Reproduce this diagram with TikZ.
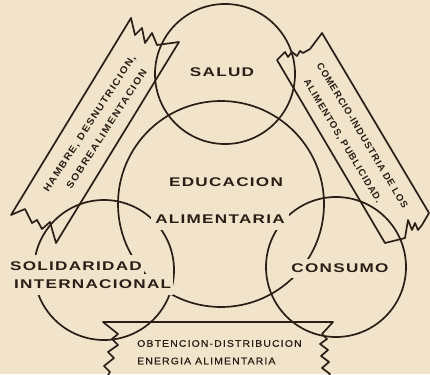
\documentclass[tikz,border=0pt]{standalone}
\usepackage{fontspec}
\newfontfamily\labfont[FakeStretch=1.36, LetterSpace=10]{Liberation Sans}
\newfontfamily\ribfont[FakeStretch=1.1, LetterSpace=14]{Liberation Sans}
\newfontfamily\ribfontb[FakeStretch=1.0, LetterSpace=10]{Liberation Sans}
\newfontfamily\botfont[FakeStretch=1.1, LetterSpace=12, FakeBold=0.6]{Liberation Sans}
\definecolor{bg}{HTML}{F2E4CA}
\definecolor{ink}{HTML}{2A1E16}
\tikzset{
  ln/.style={draw=ink, line width=1.7pt, line join=round, line cap=round},
  lab/.style={font=\labfont\bfseries\fontsize{12.6}{14}\selectfont, text=ink, fill=bg, inner xsep=2pt, inner ysep=5pt},
  ribtxt/.style={font=\ribfont\bfseries\fontsize{9.6}{11}\selectfont, text=ink, inner sep=0pt},
  ribtxtb/.style={font=\ribfontb\bfseries\fontsize{9.6}{11}\selectfont, text=ink, inner sep=0pt},
  bottxt/.style={font=\botfont\fontsize{9.5}{11}\selectfont, text=ink, inner sep=0pt, anchor=west},
}
\begin{document}
\begin{tikzpicture}[x=1pt,y=-1pt]
\useasboundingbox (0,0) rectangle (430,374);
\fill[bg] (0,0) rectangle (430,374);
\clip (0,0) rectangle (430,374);
% circle centres
\coordinate (cS) at (225,74);
\coordinate (cE) at (221,204);
\coordinate (cL) at (104,270);
\coordinate (cC) at (336,267);
\draw[ln] (cS) circle (70);
\draw[ln] (cE) circle (103);
\draw[ln] (cL) circle (70);
\draw[ln] (cC) circle (70);
% left ribbon
\draw[ln] (11,215) -- (131,18) -- (135,35) -- (142,28) -- (145,43) -- (152,33) -- (157,45) -- (179,42)
  -- (56,243) -- (50,222) -- (42,229) -- (37,220) -- (32,223) -- (25,209) -- cycle;
% right ribbon
\draw[ln] (322,33) -- (310,49) -- (303,53) -- (300,51) -- (297,56) -- (292,52) -- (288,57) -- (285,52) -- (277,60)
  -- (385,243) -- (405,238) -- (408,220) -- (412,230) -- (415,223) -- (418,230) -- (422,225) -- (429,213) -- cycle;
% bottom ribbon
\draw[ln] (104,382) -- (110,372) -- (104,366) -- (114,358) -- (108,352) -- (118,345) -- (112,339) -- (118,334)
  -- (103,322) -- (333,322) -- (322,334) -- (327,339) -- (320,344) -- (328,350) -- (321,356) -- (329,362)
  -- (322,368) -- (330,374) -- (325,382);
% ribbon texts
\node[ribtxt, rotate=57] (t1) at (90,124) {HAMBRE, DESNUTRICION,};
\node[ribtxt, rotate=57] (t2) at (106.5,129) {SOBREALIMENTACION};
\node[ribtxtb, rotate=-59] (t3) at (362.5,135.5) {COMERCIO-INDUSTRIA DE LOS};
\node[ribtxtb, rotate=-59] (t4) at (342.5,141.5) {ALIMENTOS, PUBLICIDAD.};
\node[bottxt] (t5) at (137,343.5) {OBTENCION-DISTRIBUCION};
\node[bottxt] (t6) at (137,361) {ENERGIA ALIMENTARIA};
% circle labels
\node[lab] (salud) at (222,72.5) {SALUD};
\node[lab] (edu) at (226,182.5) {EDUCACION};
\node[lab, inner xsep=4pt, inner ysep=6.5pt] (ali) at (220,219) {ALIMENTARIA};
\node[lab, anchor=west, inner ysep=7pt] (sol) at (8,266) {SOLIDARIDAD};
\node[lab, anchor=west, inner ysep=6pt] (int) at (12,284.5) {INTERNACIONAL};
\node[lab, inner xsep=3pt] (con) at (340,268.5) {CONSUMO};
\end{tikzpicture}
\end{document}
